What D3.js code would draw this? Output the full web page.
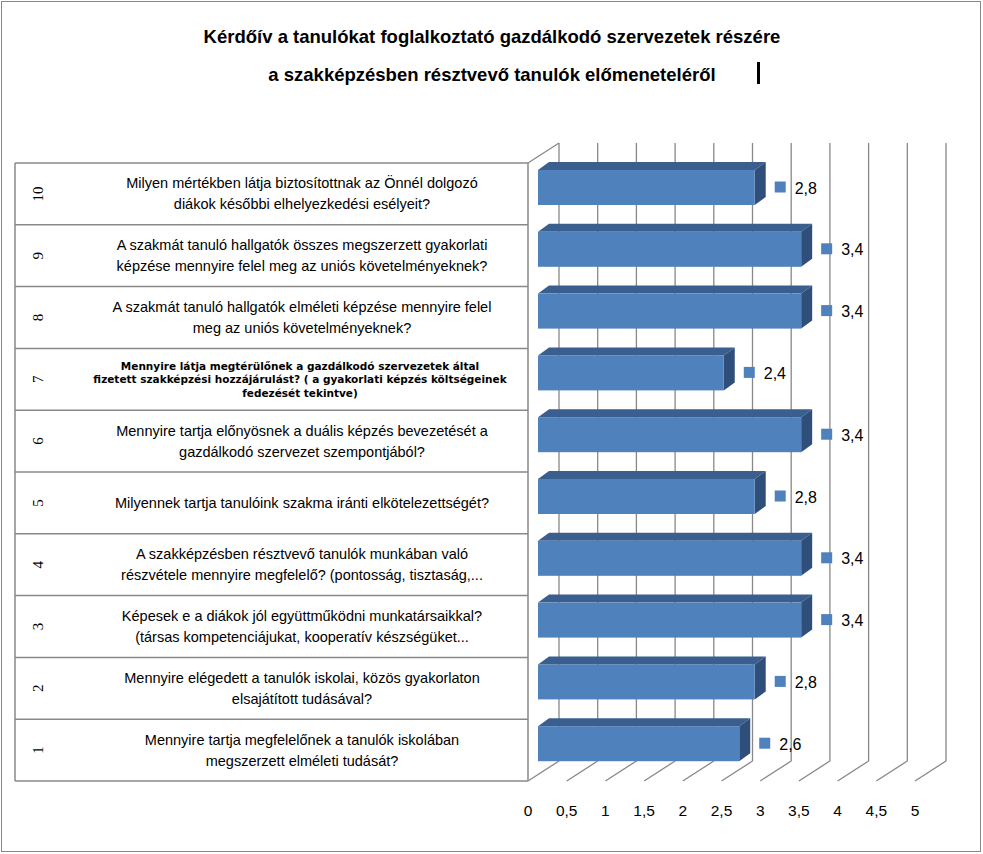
<!DOCTYPE html>
<html><head><meta charset="utf-8">
<script src="https://cdn.jsdelivr.net/npm/d3@7"></script>
<style>body{margin:0;background:#fff}</style></head><body>
<svg id="c" width="983" height="854"></svg>
<script>
const categories=["1","2","3","4","5","6","7","8","9","10"];
const questions=[
 ["Mennyire tartja megfelelőnek a tanulók iskolában","megszerzett elméleti tudását?"],
 ["Mennyire elégedett a tanulók iskolai, közös gyakorlaton","elsajátított tudásával?"],
 ["Képesek e a diákok jól együttműködni munkatársaikkal?","(társas kompetenciájukat, kooperatív készségüket..."],
 ["A szakképzésben résztvevő tanulók munkában való","részvétele mennyire megfelelő? (pontosság, tisztaság,..."],
 ["Milyennek tartja tanulóink szakma iránti elkötelezettségét?"],
 ["Mennyire tartja előnyösnek a duális képzés bevezetését a","gazdálkodó szervezet szempontjából?"],
 ["Mennyire látja megtérülőnek a gazdálkodó szervezetek által","fizetett szakképzési hozzájárulást? ( a gyakorlati képzés költségeinek","fedezését tekintve)"],
 ["A szakmát tanuló hallgatók elméleti  képzése mennyire felel","meg az uniós követelményeknek?"],
 ["A szakmát tanuló hallgatók összes megszerzett gyakorlati","képzése mennyire felel meg az uniós követelményeknek?"],
 ["Milyen mértékben látja biztosítottnak az Önnél dolgozó","diákok későbbi elhelyezkedési esélyeit?"]
];
const values=[2.6,2.8,3.4,3.4,2.8,3.4,2.4,3.4,3.4,2.8];
const ticks=[0,0.5,1,1.5,2,2.5,3,3.5,4,4.5,5];
const tickLabels=["0","0,5","1","1,5","2","2,5","3","3,5","4","4,5","5"];

const svg=d3.select("#c");
svg.append("rect").attr("x",1.5).attr("y",1.5).attr("width",979).attr("height",850).attr("fill","#fff").attr("stroke","#888");
const font="'Liberation Sans',Arial,sans-serif";
svg.append("text").attr("x",492).attr("y",43).attr("text-anchor","middle").attr("font-family",font).attr("font-weight","bold").attr("font-size",18.5).text("Kérdőív a tanulókat foglalkoztató gazdálkodó szervezetek részére");
svg.append("text").attr("x",492).attr("y",81).attr("text-anchor","middle").attr("font-family",font).attr("font-weight","bold").attr("font-size",18.5).text("a szakképzésben résztvevő tanulók előmeneteléről");
svg.append("rect").attr("x",757).attr("y",62).attr("width",3).attr("height",22).attr("fill","#000");

const x0=528, dx=31, dy=20, yTop=163, yBottom=781;
const x=d3.scaleLinear().domain([0,5]).range([x0,x0+387]);
const y=d3.scaleBand().domain(categories).range([yBottom,yTop]);
const g=svg.append("g");
ticks.forEach(t=>{
  const xx=x(t);
  g.append("path").attr("d",`M${xx},${yBottom}L${xx+dx},${yBottom-dy}L${xx+dx},${yTop-dy}`).attr("fill","none").attr("stroke","#888").attr("stroke-width",1.3);
});
g.append("path").attr("d",`M${x0},${yTop}L${x0+dx},${yTop-dy}`).attr("stroke","#888").attr("fill","none").attr("stroke-width",1.3);
categories.forEach(c=>{
  g.append("line").attr("x1",15).attr("x2",x0).attr("y1",y(c)).attr("y2",y(c)).attr("stroke","#888").attr("stroke-width",1.5);
});
g.append("line").attr("x1",15).attr("x2",x0).attr("y1",yBottom).attr("y2",yBottom).attr("stroke","#888").attr("stroke-width",1.5);
g.append("line").attr("x1",15).attr("x2",15).attr("y1",yTop).attr("y2",yBottom).attr("stroke","#888").attr("stroke-width",1.5);
g.append("line").attr("x1",x0).attr("x2",x0).attr("y1",yTop).attr("y2",yBottom).attr("stroke","#888").attr("stroke-width",1.5);

categories.forEach((c,i)=>{
  const cy=y(c)+y.bandwidth()/2;
  g.append("text").attr("transform",`translate(43,${cy}) rotate(-90)`).attr("text-anchor","middle").attr("font-family","'Liberation Serif',serif").attr("font-size",15).text(c);
  const lines=questions[i];
  const small=lines.length===3;
  const lh=small?13.5:21;
  const t=g.append("text").attr("text-anchor","middle").attr("font-family",small?"'DejaVu Sans',sans-serif":font)
    .attr("font-size",small?10.5:14.5).attr("font-weight",small?"bold":"normal");
  lines.forEach((l,k)=>{
    t.append("tspan").attr("x",small?300:302).attr("y",cy+(k-(lines.length-1)/2)*lh+(small?4:5)).text(l);
  });
  const bx=538, bw=x(values[i])-x0, by=y(c)+7, bh=35, ox=11, oy=8;
  const ex=bx+bw;
  g.append("path").attr("d",`M${bx},${by}L${bx+ox},${by-oy}L${ex+ox},${by-oy}L${ex},${by}Z`).attr("fill","#3a5f8f");
  g.append("path").attr("d",`M${ex},${by}L${ex+ox},${by-oy}L${ex+ox},${by+bh-oy}L${ex},${by+bh}Z`).attr("fill","#2f4f7a");
  g.append("rect").attr("x",bx).attr("y",by).attr("width",bw).attr("height",bh).attr("fill","#4f81bd");
  g.append("rect").attr("x",ex+20).attr("y",by+bh/2-6).attr("width",11).attr("height",11).attr("fill","#4f81bd");
  g.append("text").attr("x",ex+40).attr("y",by+bh/2+6).attr("font-family",font).attr("font-size",16).text(d3.format(".1f")(values[i]).replace(".",","));
});
ticks.forEach((t,i)=>{
  g.append("text").attr("x",x(t)).attr("y",816).attr("text-anchor","middle").attr("font-family",font).attr("font-size",15.5).text(tickLabels[i]);
});
</script></body></html>
